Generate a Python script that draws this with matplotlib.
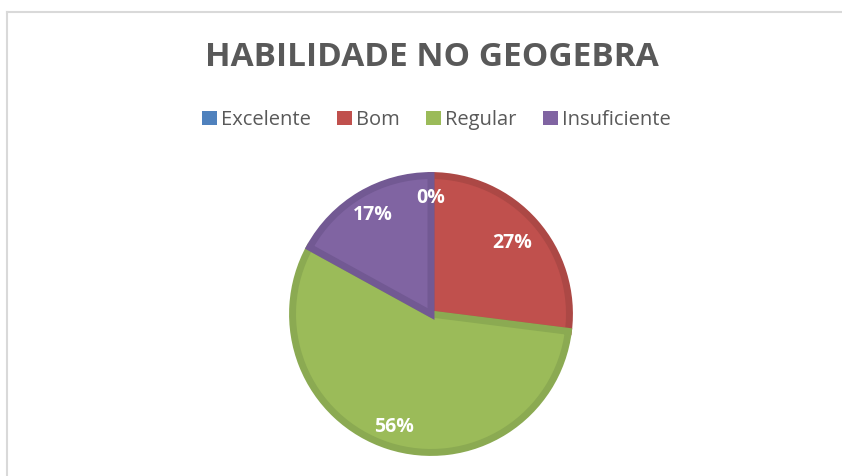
import numpy as np
import matplotlib.pyplot as plt
from matplotlib.lines import Line2D
from matplotlib.patches import Patch

# data
categorias = ['Excelente', 'Bom', 'Regular', 'Insuficiente']
percentuais = [0, 27, 56, 17]
cores = ['#4F81BD', '#C0504D', '#9BBB59', '#8064A2']
bordas = ['#45719F', '#AC4845', '#8BAA52', '#725993']

plt.rcParams['font.family'] = ['Open Sans', 'DejaVu Sans']

fig = plt.figure(figsize=(8.42, 4.76), dpi=100)

# moldura do grafico (so topo e esquerda visiveis)
fig.add_artist(Line2D([7 / 842, 1], [1 - 11.5 / 476, 1 - 11.5 / 476], color='#D9D9D9', lw=1.5))
fig.add_artist(Line2D([7 / 842, 7 / 842], [0, 1 - 11.5 / 476], color='#D9D9D9', lw=1.5))

# pizza
cx, cy, r = 431, 314, 142
ax = fig.add_axes([(cx - r) / 842, (476 - cy - r) / 476, 2 * r / 842, 2 * r / 476])
wedges, texts, autotexts = ax.pie(
    percentuais, colors=cores, startangle=90, counterclock=False, radius=0.975,
    autopct=lambda p: f'{p:.0f}%', pctdistance=0.82,
    wedgeprops=dict(linewidth=5),
    textprops=dict(color='white', fontsize=14, fontweight='bold'))
for w, b in zip(wedges, bordas):
    w.set_edgecolor(b)
    w.set_joinstyle('miter')
    w.set_clip_on(False)

# ajuste fino da distancia dos rotulos (como no Excel)
dist_rotulos = [0.82, 0.76, 0.84, 0.81]
for w, t, d in zip(wedges, autotexts, dist_rotulos):
    ang = np.deg2rad((w.theta1 + w.theta2) / 2)
    t.set_position((d * np.cos(ang), d * np.sin(ang)))

ax.set_xlim(-1, 1)
ax.set_ylim(-1, 1)
ax.set_aspect('equal')
ax.axis('off')

# titulo
fig.text(432 / 842, 1 - 57 / 476, 'HABILIDADE NO GEOGEBRA', ha='center', va='center',
         fontsize=24, fontweight='bold', color='#595959')

# legenda
handles = [Patch(facecolor=c, edgecolor='none') for c in cores]
fig.legend(handles, categorias, loc='center', bbox_to_anchor=(436 / 842, 1 - 120 / 476),
           ncol=4, frameon=False, handlelength=0.75, handleheight=0.75,
           handletextpad=0.2, columnspacing=1.3,
           prop=dict(size=14.5), labelcolor='#595959')

plt.savefig('out.png', dpi=100)
